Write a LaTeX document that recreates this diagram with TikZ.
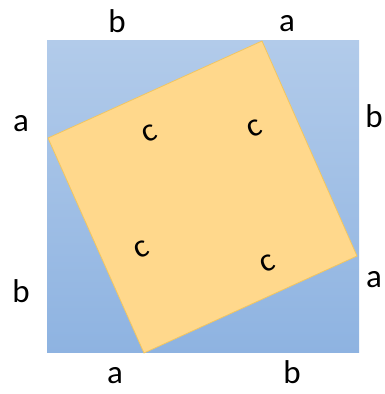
\documentclass[tikz,border=0pt]{standalone}
\usepackage{fontspec}
\setmainfont{Carlito}
\definecolor{CerSus}{RGB}{178, 203, 234}
\definecolor{CerJos}{RGB}{142, 179, 225}
\definecolor{Nisip}{RGB}{255, 216, 140}
\definecolor{NisipMargine}{RGB}{242, 198, 96}
\usetikzlibrary{calc}

\begin{document}
\begin{tikzpicture}[
    x=1pt, y=1pt,
    every node/.style={font=\fontsize{33}{36}\selectfont, inner sep=0pt},
    latura/.style={anchor=base},
    ipotenuza/.style={anchor=center, rotate=24, font=\fontsize{33}{36}\selectfont}
]
\useasboundingbox (0,0) rectangle (384,394);
% patratul mare: latura a+b
\coordinate (A) at (47,41);
\coordinate (B) at (359,41);
\coordinate (C) at (359,353);
\coordinate (D) at (47,353);
\shade[top color=CerSus, bottom color=CerJos] (A) rectangle (C);
% patratul inclinat: latura c
\coordinate (p1) at (262,353);
\coordinate (p2) at (357,138);
\coordinate (p3) at (144,41);
\coordinate (p4) at (48,256);
\filldraw[fill=Nisip, draw=NisipMargine, line width=0.8pt, line join=miter] (p1) -- (p2) -- (p3) -- (p4) -- cycle;
% etichete
\node[latura] (sb) at (117,361) {b};
\node[latura] (sa) at (287,362) {a};
\node[latura] (ea) at (21,262) {a};
\node[latura] (eb) at (21,91) {b};
\node[latura] (db) at (374,266) {b};
\node[latura] (da) at (374,106) {a};
\node[latura] (ja) at (115,10) {a};
\node[latura] (jb) at (292,10) {b};
\node[ipotenuza] (c1) at (150,261) {c};
\node[ipotenuza] (c2) at (255,266) {c};
\node[ipotenuza] (c3) at (142,145) {c};
\node[ipotenuza] (c4) at (268,131) {c};
\end{tikzpicture}
\end{document}
